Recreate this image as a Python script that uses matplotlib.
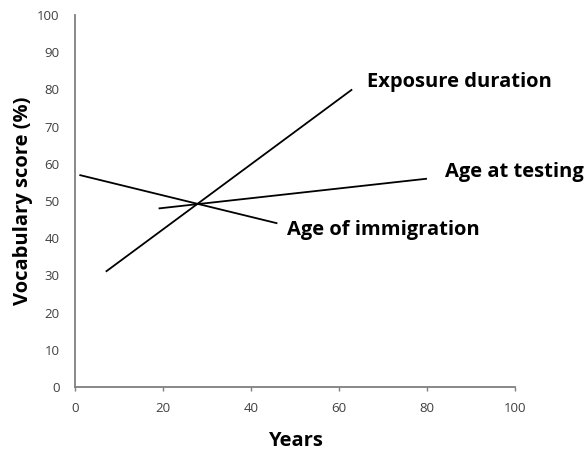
import matplotlib.pyplot as plt

# line endpoints (years, score %)
exposure_x = [7, 63]
exposure_y = [31, 80]
testing_x = [19, 80]
testing_y = [48, 56]
immigration_x = [1, 46]
immigration_y = [57, 44]

labels = ["Exposure duration", "Age at testing", "Age of immigration"]
label_x = [66.3, 84, 48.2]
label_y = [82, 57.8, 42.3]

plt.rcParams['font.family'] = ['Open Sans', 'DejaVu Sans']

fig = plt.figure(figsize=(5.84, 4.51), dpi=100)
ax = fig.add_axes([0.1284, 0.1419, 0.7534, 0.8248])

for xs, ys in [(exposure_x, exposure_y), (testing_x, testing_y),
               (immigration_x, immigration_y)]:
    ax.plot(xs, ys, color='black', lw=1.3, solid_capstyle='butt')

for t, x, y in zip(labels, label_x, label_y):
    ax.text(x, y, t, fontsize=14.5, fontweight='bold', va='center', ha='left')

ax.set_xlim(0, 100)
ax.set_ylim(0, 100)
ax.set_xticks(range(0, 101, 20))
ax.set_yticks(range(0, 101, 10))
ax.spines['top'].set_visible(False)
ax.spines['right'].set_visible(False)
for s in ['left', 'bottom']:
    ax.spines[s].set_color('#7f7f7f')
    ax.spines[s].set_linewidth(1.3)
ax.tick_params(colors='#7f7f7f', labelcolor='#404040', labelsize=9.5, width=1.0)
ax.tick_params(axis='x', length=3, pad=8)
ax.tick_params(axis='y', length=0, pad=11)

ax.set_xlabel("Years", fontsize=14.5, fontweight='bold', labelpad=11)
ax.set_ylabel("Vocabulary score (%)", fontsize=14.5, fontweight='bold', labelpad=3)

fig.savefig("out.png", dpi=100)
